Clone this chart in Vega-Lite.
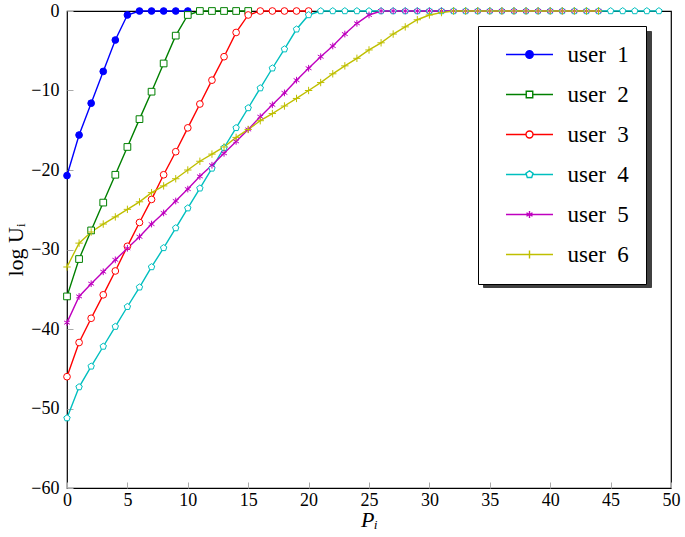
{
  "$schema": "https://vega.github.io/schema/vega-lite/v6.json",
  "autosize": "none",
  "width": 604,
  "height": 477,
  "padding": {"left": 67, "top": 11, "right": 14, "bottom": 49},
  "background": "white",
  "config": {
    "font": "Liberation Serif",
    "view": {"stroke": "black", "strokeWidth": 1.2},
    "axis": {"labelFont": "Liberation Serif", "titleFont": "Liberation Serif", "labelColor": "black", "titleColor": "black"}
  },
  "data": {"values": [
    {"user": "user 1", "P": 0, "logU": -20.7}, {"user": "user 1", "P": 1, "logU": -15.6}, {"user": "user 1", "P": 2, "logU": -11.6}, {"user": "user 1", "P": 3, "logU": -7.6}, {"user": "user 1", "P": 4, "logU": -3.65}, {"user": "user 1", "P": 5, "logU": -0.5}, {"user": "user 1", "P": 6, "logU": 0}, {"user": "user 1", "P": 7, "logU": 0}, {"user": "user 1", "P": 8, "logU": 0}, {"user": "user 1", "P": 9, "logU": 0}, {"user": "user 1", "P": 10, "logU": 0},
    {"user": "user 2", "P": 0, "logU": -35.9}, {"user": "user 2", "P": 1, "logU": -31.2}, {"user": "user 2", "P": 2, "logU": -27.6}, {"user": "user 2", "P": 3, "logU": -24.1}, {"user": "user 2", "P": 4, "logU": -20.6}, {"user": "user 2", "P": 5, "logU": -17.1}, {"user": "user 2", "P": 6, "logU": -13.6}, {"user": "user 2", "P": 7, "logU": -10.15}, {"user": "user 2", "P": 8, "logU": -6.6}, {"user": "user 2", "P": 9, "logU": -3.1}, {"user": "user 2", "P": 10, "logU": -0.5}, {"user": "user 2", "P": 11, "logU": 0}, {"user": "user 2", "P": 12, "logU": 0}, {"user": "user 2", "P": 13, "logU": 0}, {"user": "user 2", "P": 14, "logU": 0}, {"user": "user 2", "P": 15, "logU": 0},
    {"user": "user 3", "P": 0, "logU": -46.0}, {"user": "user 3", "P": 1, "logU": -41.7}, {"user": "user 3", "P": 2, "logU": -38.65}, {"user": "user 3", "P": 3, "logU": -35.7}, {"user": "user 3", "P": 4, "logU": -32.7}, {"user": "user 3", "P": 5, "logU": -29.6}, {"user": "user 3", "P": 6, "logU": -26.6}, {"user": "user 3", "P": 7, "logU": -23.7}, {"user": "user 3", "P": 8, "logU": -20.6}, {"user": "user 3", "P": 9, "logU": -17.7}, {"user": "user 3", "P": 10, "logU": -14.7}, {"user": "user 3", "P": 11, "logU": -11.7}, {"user": "user 3", "P": 12, "logU": -8.7}, {"user": "user 3", "P": 13, "logU": -5.75}, {"user": "user 3", "P": 14, "logU": -2.7}, {"user": "user 3", "P": 15, "logU": -0.5}, {"user": "user 3", "P": 16, "logU": 0}, {"user": "user 3", "P": 17, "logU": 0}, {"user": "user 3", "P": 18, "logU": 0}, {"user": "user 3", "P": 19, "logU": 0}, {"user": "user 3", "P": 20, "logU": 0},
    {"user": "user 4", "P": 0, "logU": -51.2}, {"user": "user 4", "P": 1, "logU": -47.3}, {"user": "user 4", "P": 2, "logU": -44.7}, {"user": "user 4", "P": 3, "logU": -42.2}, {"user": "user 4", "P": 4, "logU": -39.7}, {"user": "user 4", "P": 5, "logU": -37.2}, {"user": "user 4", "P": 6, "logU": -34.75}, {"user": "user 4", "P": 7, "logU": -32.2}, {"user": "user 4", "P": 8, "logU": -29.8}, {"user": "user 4", "P": 9, "logU": -27.3}, {"user": "user 4", "P": 10, "logU": -24.8}, {"user": "user 4", "P": 11, "logU": -22.3}, {"user": "user 4", "P": 12, "logU": -19.8}, {"user": "user 4", "P": 13, "logU": -17.2}, {"user": "user 4", "P": 14, "logU": -14.7}, {"user": "user 4", "P": 15, "logU": -12.2}, {"user": "user 4", "P": 16, "logU": -9.7}, {"user": "user 4", "P": 17, "logU": -7.2}, {"user": "user 4", "P": 18, "logU": -4.8}, {"user": "user 4", "P": 19, "logU": -2.3}, {"user": "user 4", "P": 20, "logU": -0.5}, {"user": "user 4", "P": 21, "logU": 0}, {"user": "user 4", "P": 22, "logU": 0}, {"user": "user 4", "P": 23, "logU": 0}, {"user": "user 4", "P": 24, "logU": 0}, {"user": "user 4", "P": 25, "logU": 0}, {"user": "user 4", "P": 26, "logU": 0}, {"user": "user 4", "P": 27, "logU": 0}, {"user": "user 4", "P": 28, "logU": 0}, {"user": "user 4", "P": 29, "logU": 0}, {"user": "user 4", "P": 30, "logU": 0}, {"user": "user 4", "P": 31, "logU": 0}, {"user": "user 4", "P": 32, "logU": 0}, {"user": "user 4", "P": 33, "logU": 0}, {"user": "user 4", "P": 34, "logU": 0}, {"user": "user 4", "P": 35, "logU": 0}, {"user": "user 4", "P": 36, "logU": 0}, {"user": "user 4", "P": 37, "logU": 0}, {"user": "user 4", "P": 38, "logU": 0}, {"user": "user 4", "P": 39, "logU": 0}, {"user": "user 4", "P": 40, "logU": 0}, {"user": "user 4", "P": 41, "logU": 0}, {"user": "user 4", "P": 42, "logU": 0}, {"user": "user 4", "P": 43, "logU": 0}, {"user": "user 4", "P": 44, "logU": 0}, {"user": "user 4", "P": 45, "logU": 0}, {"user": "user 4", "P": 46, "logU": 0}, {"user": "user 4", "P": 47, "logU": 0}, {"user": "user 4", "P": 48, "logU": 0}, {"user": "user 4", "P": 49, "logU": 0},
    {"user": "user 5", "P": 0, "logU": -39.2}, {"user": "user 5", "P": 1, "logU": -35.9}, {"user": "user 5", "P": 2, "logU": -34.3}, {"user": "user 5", "P": 3, "logU": -32.8}, {"user": "user 5", "P": 4, "logU": -31.3}, {"user": "user 5", "P": 5, "logU": -29.85}, {"user": "user 5", "P": 6, "logU": -28.4}, {"user": "user 5", "P": 7, "logU": -26.8}, {"user": "user 5", "P": 8, "logU": -25.4}, {"user": "user 5", "P": 9, "logU": -23.9}, {"user": "user 5", "P": 10, "logU": -22.4}, {"user": "user 5", "P": 11, "logU": -20.8}, {"user": "user 5", "P": 12, "logU": -19.4}, {"user": "user 5", "P": 13, "logU": -17.9}, {"user": "user 5", "P": 14, "logU": -16.4}, {"user": "user 5", "P": 15, "logU": -14.9}, {"user": "user 5", "P": 16, "logU": -13.3}, {"user": "user 5", "P": 17, "logU": -11.8}, {"user": "user 5", "P": 18, "logU": -10.3}, {"user": "user 5", "P": 19, "logU": -8.7}, {"user": "user 5", "P": 20, "logU": -7.2}, {"user": "user 5", "P": 21, "logU": -5.75}, {"user": "user 5", "P": 22, "logU": -4.4}, {"user": "user 5", "P": 23, "logU": -2.9}, {"user": "user 5", "P": 24, "logU": -1.55}, {"user": "user 5", "P": 25, "logU": -0.5}, {"user": "user 5", "P": 26, "logU": 0}, {"user": "user 5", "P": 27, "logU": 0}, {"user": "user 5", "P": 28, "logU": 0}, {"user": "user 5", "P": 29, "logU": 0}, {"user": "user 5", "P": 30, "logU": 0}, {"user": "user 5", "P": 31, "logU": 0}, {"user": "user 5", "P": 32, "logU": 0}, {"user": "user 5", "P": 33, "logU": 0}, {"user": "user 5", "P": 34, "logU": 0}, {"user": "user 5", "P": 35, "logU": 0}, {"user": "user 5", "P": 36, "logU": 0}, {"user": "user 5", "P": 37, "logU": 0}, {"user": "user 5", "P": 38, "logU": 0}, {"user": "user 5", "P": 39, "logU": 0}, {"user": "user 5", "P": 40, "logU": 0}, {"user": "user 5", "P": 41, "logU": 0}, {"user": "user 5", "P": 42, "logU": 0}, {"user": "user 5", "P": 43, "logU": 0}, {"user": "user 5", "P": 44, "logU": 0},
    {"user": "user 6", "P": 0, "logU": -32.2}, {"user": "user 6", "P": 1, "logU": -29.2}, {"user": "user 6", "P": 2, "logU": -27.8}, {"user": "user 6", "P": 3, "logU": -26.8}, {"user": "user 6", "P": 4, "logU": -25.9}, {"user": "user 6", "P": 5, "logU": -24.95}, {"user": "user 6", "P": 6, "logU": -24.0}, {"user": "user 6", "P": 7, "logU": -22.85}, {"user": "user 6", "P": 8, "logU": -22.0}, {"user": "user 6", "P": 9, "logU": -21.1}, {"user": "user 6", "P": 10, "logU": -20.0}, {"user": "user 6", "P": 11, "logU": -18.9}, {"user": "user 6", "P": 12, "logU": -18.0}, {"user": "user 6", "P": 13, "logU": -17.1}, {"user": "user 6", "P": 14, "logU": -15.9}, {"user": "user 6", "P": 15, "logU": -14.9}, {"user": "user 6", "P": 16, "logU": -13.8}, {"user": "user 6", "P": 17, "logU": -12.9}, {"user": "user 6", "P": 18, "logU": -11.95}, {"user": "user 6", "P": 19, "logU": -11.0}, {"user": "user 6", "P": 20, "logU": -10.0}, {"user": "user 6", "P": 21, "logU": -9.0}, {"user": "user 6", "P": 22, "logU": -7.9}, {"user": "user 6", "P": 23, "logU": -6.9}, {"user": "user 6", "P": 24, "logU": -5.95}, {"user": "user 6", "P": 25, "logU": -4.9}, {"user": "user 6", "P": 26, "logU": -4.0}, {"user": "user 6", "P": 27, "logU": -2.9}, {"user": "user 6", "P": 28, "logU": -2.0}, {"user": "user 6", "P": 29, "logU": -1.1}, {"user": "user 6", "P": 30, "logU": -0.5}, {"user": "user 6", "P": 31, "logU": -0.2}, {"user": "user 6", "P": 32, "logU": 0}, {"user": "user 6", "P": 33, "logU": 0}, {"user": "user 6", "P": 34, "logU": 0}, {"user": "user 6", "P": 35, "logU": 0}, {"user": "user 6", "P": 36, "logU": 0}, {"user": "user 6", "P": 37, "logU": 0}, {"user": "user 6", "P": 38, "logU": 0}, {"user": "user 6", "P": 39, "logU": 0}, {"user": "user 6", "P": 40, "logU": 0}, {"user": "user 6", "P": 41, "logU": 0}, {"user": "user 6", "P": 42, "logU": 0}, {"user": "user 6", "P": 43, "logU": 0}, {"user": "user 6", "P": 44, "logU": 0}
  ]},
  "encoding": {
    "x": {"field": "P", "type": "quantitative",
      "scale": {"domain": [0, 50], "nice": false, "zero": false},
      "axis": {"values": [0, 5, 10, 15, 20, 25, 30, 35, 40, 45, 50], "grid": false, "domain": false,
        "tickSize": -6, "tickColor": "#aaaaaa", "tickWidth": 1, "labelPadding": 9, "labelFontSize": 18,
        "labelFlush": false, "labelOverlap": false,
        "title": "Pᵢ", "titleFontSize": 22, "titleFontStyle": "italic", "titleFontWeight": "normal", "titlePadding": 0}},
    "y": {"field": "logU", "type": "quantitative",
      "scale": {"domain": [-60, 0], "nice": false, "zero": false},
      "axis": {"values": [-60, -50, -40, -30, -20, -10, 0], "grid": false, "domain": false,
        "tickSize": -6, "tickColor": "#aaaaaa", "tickWidth": 1, "labelPadding": 14, "labelFontSize": 18,
        "labelFlush": false, "labelOverlap": false,
        "title": "log Uᵢ", "titleFontSize": 22, "titleFontWeight": "normal", "titlePadding": 3}}
  },
  "layer": [
    {
      "mark": {"type": "line", "strokeWidth": 1.4},
      "encoding": {
        "color": {"field": "user", "type": "nominal",
          "scale": {"range": ["#0000ff", "#008000", "#ff0000", "#00bfbf", "#bf00bf", "#bfbf00"]},
          "legend": {
            "orient": "none", "legendX": 411, "legendY": 15, "title": null, "zindex": 1,
            "padding": 17, "fillColor": "white", "strokeColor": "black",
            "symbolSize": 100, "symbolOffset": 23, "labelOffset": 26.5, "symbolStrokeWidth": 1.4,
            "labelFontSize": 23, "labelFont": "Liberation Serif", "labelColor": "black", "rowPadding": 16,
            "labelExpr": "replace(datum.label, ' ', '\u2002') + '\u00a0\u00a0\u00a0'",
            "encode": {"symbols": {"update": {
              "shape": {"signal": "datum.value === 'user 1' ? 'M-4.7,0H4.7M-0.75,0A0.75,0.75,0,1,1,0.75,0A0.75,0.75,0,1,1,-0.75,0Z' : datum.value === 'user 2' ? 'M-4.7,0H-0.65M0.65,0H4.7M-0.65,-0.65H0.65V0.65H-0.65Z' : datum.value === 'user 3' ? 'M-4.7,0H-0.7M0.7,0H4.7M-0.7,0A0.7,0.7,0,1,1,0.7,0A0.7,0.7,0,1,1,-0.7,0Z' : datum.value === 'user 4' ? 'M-4.7,0H-0.64M0.64,0H4.7M0,-0.75L0.713,-0.232L0.441,0.607L-0.441,0.607L-0.713,-0.232Z' : datum.value === 'user 5' ? 'M-4.7,0H4.7M0,-0.7V0.7M-0.6,-0.35L0.6,0.35M-0.6,0.35L0.6,-0.35' : 'M-4.7,0H4.7M0,-0.8V0.8'"},
              "fill": {"signal": "datum.value === 'user 1' ? '#0000ff' : '#ffffff'"},
              "stroke": {"scale": "color", "field": "value"},
              "opacity": {"value": 1},
              "strokeWidth": {"value": 1.4}
            }}}
          }}
      }
    },
    {
      "mark": {"type": "point", "filled": false, "size": 45, "strokeWidth": 1, "opacity": 1},
      "encoding": {
        "color": {"field": "user", "type": "nominal"},
        "shape": {"field": "user", "type": "nominal", "legend": null,
          "scale": {"range": ["circle", "square", "circle", "M0,-1L0.951,-0.309L0.588,0.809L-0.588,0.809L-0.951,-0.309Z", "M0,-1V1M-0.866,-0.5L0.866,0.5M-0.866,0.5L0.866,-0.5", "M-1.1,0H1.1M0,-1.1V1.1"]}},
        "fill": {"condition": {"test": "datum.user === 'user 1'", "value": "#0000ff"}, "value": "#ffffff"}
      }
    },
    {
      "mark": {"type": "point", "size": 1},
      "encoding": {
        "opacity": {"field": "user", "type": "nominal",
          "scale": {"type": "ordinal", "domain": ["user 1", "user 2", "user 3", "user 4", "user 5", "user 6"], "range": [0, 0, 0, 0, 0, 0]},
          "legend": {
            "orient": "none", "legendX": 416, "legendY": 20, "title": null, "zindex": 0,
            "padding": 17, "fillColor": "#404040", "strokeColor": "#404040",
            "symbolSize": 100, "symbolOffset": 23, "labelOffset": 26.5, "symbolStrokeWidth": 1.4,
            "labelFontSize": 23, "labelFont": "Liberation Serif", "labelColor": "#404040", "rowPadding": 25.6,
            "labelExpr": "replace(datum.label, ' ', '\u2002') + '\u00a0\u00a0\u00a0'",
            "encode": {"symbols": {"update": {
              "shape": {"value": "M-4.7,0H4.7M0,-0.8V0.8"},
              "fill": {"value": "#404040"},
              "stroke": {"value": "#404040"},
              "opacity": {"value": 1},
              "strokeWidth": {"value": 1.4}
            }}}
          }}
      }
    }
  ]
}
